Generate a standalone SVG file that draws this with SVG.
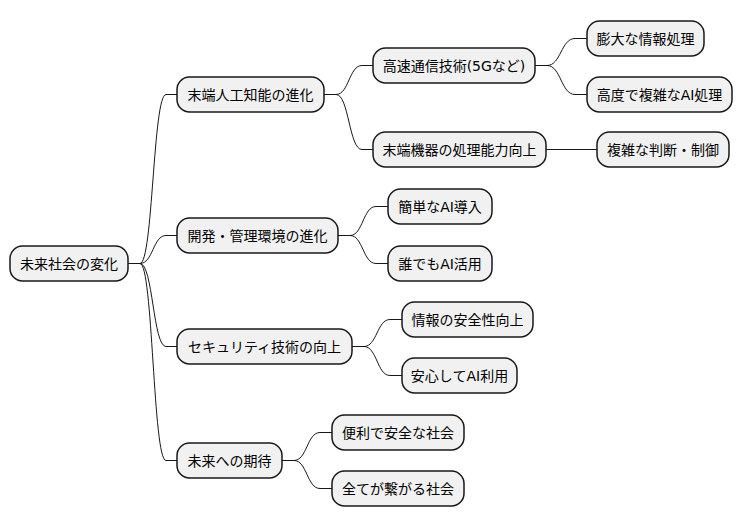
<svg xmlns="http://www.w3.org/2000/svg" width="743" height="527" viewBox="0 0 743 527">
<style>
.n rect{fill:#F1F1F1;stroke:#181818;stroke-width:1.5}
.n text{font-family:"DejaVu Sans","Noto Sans CJK JP",sans-serif;font-size:14px;fill:#000;text-anchor:middle;dominant-baseline:central}
.c path{fill:none;stroke:#181818;stroke-width:1}
</style>
<rect width="743" height="527" fill="#FFFFFF"/>
<g class="c" id="connectors">
<path d="M128 263.5 H140 C153 263.5 153 94.5 166 94.5 H177"/>
<path d="M128 263.5 H140 C153 263.5 153 235.5 166 235.5 H177"/>
<path d="M128 263.5 H140 C153 263.5 153 346.5 166 346.5 H177"/>
<path d="M128 263.5 H140 C153 263.5 153 460.5 166 460.5 H177"/>
<path d="M324 94.5 H336 C349 94.5 349 65.5 362 65.5 H373"/>
<path d="M324 94.5 H336 C349 94.5 349 149.5 362 149.5 H373"/>
<path d="M535 65.5 H547 C561 65.5 561 38.5 575 38.5 H587"/>
<path d="M535 65.5 H547 C561 65.5 561 94.5 575 94.5 H587"/>
<path d="M546 149.5 H597"/>
<path d="M338 235.5 H350 C363 235.5 363 206.5 376 206.5 H388"/>
<path d="M338 235.5 H350 C363 235.5 363 263.5 376 263.5 H388"/>
<path d="M352 346.5 H364 C377 346.5 377 319.5 390 319.5 H402"/>
<path d="M352 346.5 H364 C377 346.5 377 375.5 390 375.5 H402"/>
<path d="M282 460.5 H294 C307 460.5 307 432.5 320 432.5 H332"/>
<path d="M282 460.5 H294 C307 460.5 307 488.5 320 488.5 H332"/>
</g>
<g class="n" id="root"><rect x="10" y="246" width="118" height="35" rx="12.5"/><text x="69" y="263.5">未来社会の変化</text></g>
<g class="n" id="a"><rect x="177" y="77" width="147" height="35" rx="12.5"/><text x="250.5" y="94.5">末端人工知能の進化</text></g>
<g class="n" id="a1"><rect x="373" y="48" width="162" height="35" rx="12.5"/><text x="454" y="65.5">高速通信技術(5Gなど)</text></g>
<g class="n" id="a1a"><rect x="587" y="21" width="117" height="35" rx="12.5"/><text x="645.5" y="38.5">膨大な情報処理</text></g>
<g class="n" id="a1b"><rect x="587" y="77" width="145" height="35" rx="12.5"/><text x="659.5" y="94.5">高度で複雑なAI処理</text></g>
<g class="n" id="a2"><rect x="373" y="132" width="173" height="35" rx="12.5"/><text x="459.5" y="149.5">末端機器の処理能力向上</text></g>
<g class="n" id="a2a"><rect x="597" y="132" width="132" height="35" rx="12.5"/><text x="663" y="149.5">複雑な判断・制御</text></g>
<g class="n" id="b"><rect x="177" y="218" width="161" height="35" rx="12.5"/><text x="257.5" y="235.5">開発・管理環境の進化</text></g>
<g class="n" id="b1"><rect x="388" y="189" width="104" height="35" rx="12.5"/><text x="440" y="206.5">簡単なAI導入</text></g>
<g class="n" id="b2"><rect x="388" y="246" width="104" height="35" rx="12.5"/><text x="440" y="263.5">誰でもAI活用</text></g>
<g class="n" id="c"><rect x="177" y="329" width="175" height="35" rx="12.5"/><text x="264.5" y="346.5">セキュリティ技術の向上</text></g>
<g class="n" id="c1"><rect x="402" y="302" width="131" height="35" rx="12.5"/><text x="467.5" y="319.5">情報の安全性向上</text></g>
<g class="n" id="c2"><rect x="402" y="358" width="115" height="35" rx="12.5"/><text x="459.5" y="375.5">安心してAI利用</text></g>
<g class="n" id="d"><rect x="177" y="443" width="105" height="35" rx="12.5"/><text x="229.5" y="460.5">未来への期待</text></g>
<g class="n" id="d1"><rect x="332" y="415" width="132" height="35" rx="12.5"/><text x="398" y="432.5">便利で安全な社会</text></g>
<g class="n" id="d2"><rect x="332" y="471" width="132" height="35" rx="12.5"/><text x="398" y="488.5">全てが繋がる社会</text></g>
</svg>
